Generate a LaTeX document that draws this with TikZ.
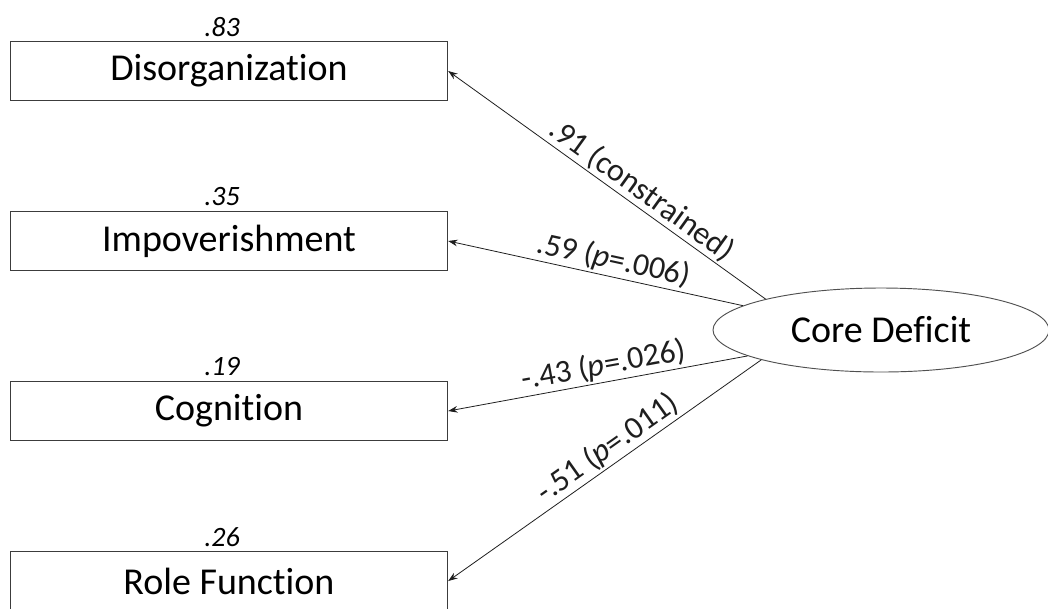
\documentclass[tikz,border=0pt]{standalone}
\usepackage{fontspec}
\setmainfont{Carlito}[Ligatures={NoCommon}]
\usetikzlibrary{shapes.geometric, arrows.meta}
\definecolor{sembox}{HTML}{3C3C3C}
\definecolor{semline}{HTML}{1E1E1E}
\definecolor{semoval}{HTML}{505050}

\tikzset{
  indicator/.style={draw=sembox, line width=0.8pt, minimum width=328pt, minimum height=44pt, inner sep=0pt, font=\fontsize{28.5}{32}\selectfont},
  loading/.style={font=\fontsize{21}{24}\selectfont\itshape, inner sep=0pt},
  latent/.style={ellipse, draw=semoval, line width=0.7pt, minimum width=252pt, minimum height=63pt, inner sep=0pt, font=\fontsize{28.5}{32}\selectfont},
  semarrow/.style={-{Stealth[length=7pt, width=5pt]}, line width=0.6pt, semline},
  coef/.style={sloped, above, inner sep=1.5pt, font=\fontsize{24}{28}\selectfont}
}

\begin{document}
\begin{tikzpicture}[x=0.75pt, y=-0.75pt]
  \useasboundingbox (0,0) rectangle (1048,608);
  \node[latent] (core) at (881,330) {Core Deficit};
  \foreach \nm/\txt/\y/\ld/\ang/\ps/\cf in {
    dis/Disorganization/71/.83/165/0.42/{.91 (constrained)},
    imp/Impoverishment/241/.35/170/0.45/{.59 (\textit{p}=.006)},
    cog/Cognition/411/.19/191/0.47/{-.43 (\textit{p}=.026)},
    rol/Role Function/581/.26/194/0.46/{-.51 (\textit{p}=.011)}}{
    \node[indicator] (\nm) at (229,\y) {\txt};
    \node[loading] (\nm-ld) at (222,\y-44) {\ld};
    \draw[semarrow] (core.\ang) -- node[coef, pos=\ps] {\cf} (\nm.east);
  }
\end{tikzpicture}
\end{document}
